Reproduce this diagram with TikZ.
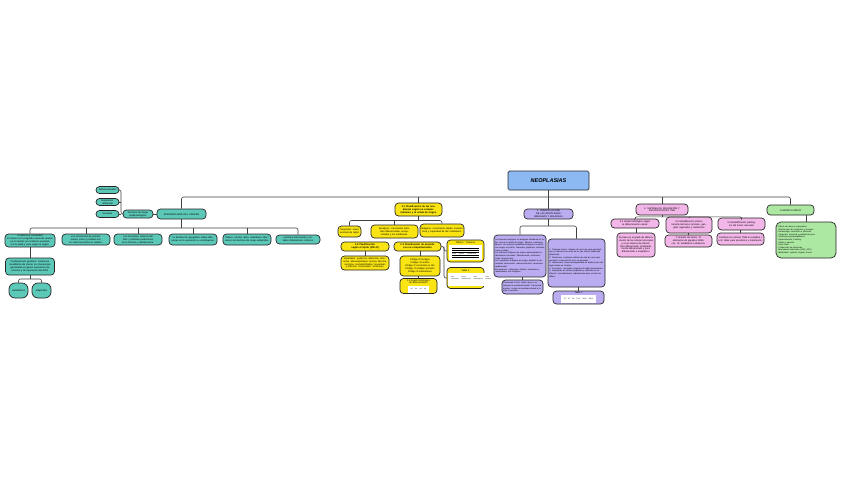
\documentclass[tikz,border=0pt]{standalone}
\usepackage{fontspec}
\setmainfont{Liberation Sans}

\definecolor{turquesa}{RGB}{92,200,184}
\definecolor{amarillo}{RGB}{250,228,20}
\definecolor{lila}{RGB}{187,172,242}
\definecolor{rosa}{RGB}{242,182,232}
\definecolor{verde}{RGB}{172,232,162}
\definecolor{celeste}{RGB}{140,185,242}

\tikzset{
	caja/.style={draw=black!85, line width=0.7pt, rounded corners=3.5pt, align=center, inner sep=0.8pt, font=\fontsize{2.4}{2.9}\selectfont},
	tq/.style={caja, fill=turquesa},
	am/.style={caja, fill=amarillo},
	li/.style={caja, fill=lila},
	ro/.style={caja, fill=rosa},
	ve/.style={caja, fill=verde},
	tam/.code 2 args={\pgfmathsetmacro\anchoT{#1-2.5}\pgfkeysalso{minimum width=#1pt, minimum height=#2pt, text width=\anchoT pt}},
	linea/.style={draw=black!75, line width=0.6pt, rounded corners=2pt},
}

\begin{document}
\begin{tikzpicture}[x=1pt,y=-1pt]
	\useasboundingbox[fill=white] (0,0) rectangle (848,477);
	
	% raiz
	\node[caja, fill=celeste, rounded corners=1.5pt, minimum width=81pt, minimum height=19pt, font=\fontsize{5.5}{7}\selectfont\bfseries\itshape] (root) at (548.5,180.5) {NEOPLASIAS};
	
	% epidemiologia
	\node[tq, tam={49}{10}] (t0) at (181.5,214) {EPIDEMIOLOGÍA DEL CÁNCER};
	\node[tq, tam={30}{8}] (tr) at (138,214) {Factores de riesgo\\ epidemiológicos};
	\node[tq, tam={23}{7}] (s1) at (107.5,190) {Edad avanzada};
	\node[tq, tam={23}{7}] (s2) at (107.5,202) {Exposición ambiental};
	\node[tq, tam={23}{7}] (s3) at (107.5,214) {Herencia};
	
	\node[tq, tam={50}{13}] (ta) at (30,240.5) {Incidencia y mortalidad\\ El cáncer es la segunda causa de muerte en el mundo; su incidencia aumenta con la edad y varía según la región.};
	\node[tq, tam={48}{11}] (tb) at (86,239.5) {Los carcinomas de pulmón, mama, colon y próstata son los más frecuentes en adultos.};
	\node[tq, tam={48}{11}] (tc) at (138,239.5) {Las leucemias, tumores del SNC y linfomas predominan en la infancia y adolescencia.};
	\node[tq, tam={48}{11}] (td) at (193,239.5) {La distribución geográfica refleja diferencias en la exposición a carcinógenos.};
	\node[tq, tam={48}{11}] (te) at (247,239.5) {Tabaco, alcohol, dieta, obesidad e infecciones son factores de riesgo adquiridos.};
	\node[tq, tam={44}{9}] (tf) at (298,239.5) {Lesiones precursoras y estados inflamatorios crónicos};
	
	\node[tq, tam={49}{17}] (tg) at (30,266.5) {Predisposición genética: síndromes hereditarios de cáncer por mutaciones germinales en genes supresores de tumores y de reparación del ADN.};
	\node[tq, tam={19}{15}, rounded corners=6pt] (th1) at (18.5,290.5) {Hereditarios};
	\node[tq, tam={19}{15}, rounded corners=6pt] (th2) at (41.5,290.5) {Adquiridos};
	
	% clasificacion
	\node[am, tam={47}{13}, font=\fontsize{2.5}{3}\selectfont\bfseries] (y0) at (418.5,209.5) {1.1 Clasificación de las neoplasias según su comportamiento y la célula de origen};
	\node[am, tam={23}{11}] (ya) at (349.5,231.5) {Neoplasia: masa anormal de tejido};
	\node[am, tam={47}{13}] (yb) at (394.5,231.5) {Benignas: crecimiento lento, bien diferenciadas, encapsuladas y sin metástasis.};
	\node[am, tam={44}{13}] (yc) at (442,230.5) {Malignas: crecimiento rápido, invasión local y capacidad de dar metástasis.};
	
	\node[am, tam={48}{9}, font=\fontsize{2.5}{3}\selectfont\bfseries] (yd) at (365,246.5) {1.2 Clasificación según el tejido (CIE-O)};
	\node[am, tam={48}{14}] (yd2) at (365,263) {Epiteliales: papiloma, adenoma, carcinoma. Mesenquimales: lipoma, fibroma, sarcoma. Hematolinfoides: leucemias y linfomas. Germinales: teratomas.};
	\node[am, tam={47}{9}, font=\fontsize{2.5}{3}\selectfont\bfseries] (ye) at (417.5,246.5) {1.3 Clasificación de acuerdo con su comportamiento};
	\node[am, tam={40}{20}] (ye2) at (420,266) {Código /0 benigno\\ Código /1 incierto\\ Código /2 carcinoma in situ\\ Código /3 maligno primario\\ Código /6 metastásico};
	\node[am, tam={37}{14}] (ye3) at (418.5,286) {1.4 Grado histológico de diferenciación\\[0.6pt] \colorbox{white}{\fontsize{1.6}{1.9}\selectfont G1 \quad G2 \quad G3 \quad G4}};
	
	\node[am, tam={37}{22}] (yf) at (465.5,251) {Tabla 1. Tumores\\[0.6pt]
		\colorbox{white}{\fontsize{1.5}{1.8}\selectfont\setlength{\tabcolsep}{1pt}\begin{tabular}{@{}lll@{}}\hline Tejido & Benigno & Maligno\\\hline Epitelio & Adenoma & Adenocarcinoma\\\hline Grasa & Lipoma & Liposarcoma\\\hline Hueso & Osteoma & Osteosarcoma\\\hline\end{tabular}}};
	\node[am, tam={37}{21}] (yg) at (465.5,278) {Tabla 2\\[0.6pt]
		\colorbox{white}{\fontsize{1.5}{1.8}\selectfont\setlength{\tabcolsep}{1.5pt}\begin{tabular}{@{}llll@{}}Mus & Nervio & Vaso & Linfa\\ Leiomioma & Schwannoma & Hemangioma & Linfoma\\[2pt] & & & \end{tabular}}};
	
	% nomenclatura
	\node[li, tam={49}{10}] (p0) at (548.5,214) {2. NOMENCLATURA DE LAS NEOPLASIAS\\ BENIGNAS Y MALIGNAS};
	\node[li, tam={52}{42}, align=left, font=\fontsize{2.1}{2.7}\selectfont] (pa) at (520,256) {Los tumores benignos se designan añadiendo el sufijo -oma a la célula de origen: fibroma, condroma, lipoma. Los tumores epiteliales benignos se clasifican según su patrón: adenoma, papiloma, cistoadenoma y pólipo.\\
		Los tumores malignos de origen mesenquimal se denominan sarcomas: fibrosarcoma, condrosarcoma, liposarcoma.\\
		Las neoplasias malignas de origen epitelial se denominan carcinomas: adenocarcinoma, carcinoma epidermoide.\\
		Excepciones: melanoma, linfoma, seminoma y mesotelioma son malignos.};
	\node[li, tam={57}{48}, align=left, font=\fontsize{2.1}{2.7}\selectfont] (pb) at (576.5,263) {1. Tumores mixtos: derivan de una sola capa germinal que se diferencia en más de un tipo celular (adenoma pleomorfo).\\
		2. Teratomas: contienen células de más de una capa germinal, a menudo las tres, en gónadas.\\
		3. Hamartoma: masa desorganizada de tejido propio del lugar donde se localiza.\\
		4. Coristoma: anomalía congénita de tejido heterotópico.\\
		5. Neoplasias de células pequeñas y redondas en la infancia: neuroblastoma, rabdomiosarcoma y tumor de Wilms.};
	\node[li, tam={51}{13}] (pc) at (578.5,297.5) {Tabla 3\\[0.5pt]
		\colorbox{white}{\fontsize{1.8}{2.1}\selectfont Tx \; T0 \; Tis \; T1-4 \quad N0-3 \quad M0-1}};
	\node[li, tam={41}{14}, align=left, font=\fontsize{2.1}{2.7}\selectfont] (pd) at (522.5,287) {Carcinoma in situ: lesión que no sobrepasa la membrana basal. Carcinoma invasor: rompe la membrana basal e infiltra el estroma.};
	
	% gradacion
	\node[ro, tam={52}{11}] (r0) at (662,209.5) {3. SISTEMA DE GRADACIÓN Y\\ ESTADIFICACIÓN TNM};
	\node[ro, tam={48}{9}] (ra) at (635,223.5) {3.1 Grado histológico según la diferenciación celular};
	\node[ro, tam={38}{24}] (ra2) at (636,245) {Se basa en el grado de diferenciación de las células tumorales y en el número de mitosis: bien diferenciado, moderadamente diferenciado y poco diferenciado o anaplásico.};
	\node[ro, tam={46}{16}] (rb) at (689,225) {3.2 Estadificación clínica: tamaño del tumor primario, ganglios regionales y metástasis};
	\node[ro, tam={47}{12}] (rb2) at (688.5,241) {T: tamaño del tumor. N: afectación de ganglios linfáticos. M: metástasis a distancia.};
	\node[ro, tam={47}{12}] (rc) at (741.5,224) {3.3 Estadificación patológica del tumor resecado};
	\node[ro, tam={47}{12}] (rc2) at (740.5,239) {Combina los valores TNM en estadios I a IV, útiles para pronóstico y tratamiento.};
	
	% clinica
	\node[ve, tam={47}{10}] (g0) at (790.5,210) {CUADRO CLÍNICO};
	\node[ve, tam={60}{36}, align=left, font=\fontsize{2.1}{2.6}\selectfont, rounded corners=5pt] (g1) at (806,240) {- Efecto de masa y compresión\\
		- Obstrucción de conductos y vísceras\\
		- Hemorragia, ulceración e infección\\
		- Caquexia: anorexia y pérdida de peso\\
		- Síndromes paraneoplásicos\\
		- Hipercalcemia, Cushing\\
		- Fiebre y anemia\\
		- Dolor local\\
		- Producción de hormonas\\
		- Marcadores tumorales (CEA, AFP)\\
		- Metástasis: pulmón, hígado, hueso};
	
	% conexiones raiz
	\coordinate (busR) at (548.5,197);
	\draw[linea] (t0.north) |- (busR) -| (g0.north);
	\draw[linea] (root.south) -- (busR);
	\foreach \n in {y0,p0,r0} {
		\draw[linea] (\n.north) -- (\n.north |- busR);
	}
	
	% conexiones epidemiologia
	\draw[linea] (tr.east) -- (t0.west);
	\coordinate (kl) at (121,214);
	\draw[linea] (s1.east) -| (kl) -- (tr.west);
	\draw[linea] (s2.east) -- (s2.east -| kl);
	\draw[linea] (s3.east) -- (kl);
	\coordinate (busT) at (181.5,228);
	\draw[linea] (ta.north) |- (busT) -| (tf.north);
	\draw[linea] (t0.south) -- (busT);
	\foreach \n in {tb,tc,td,te} {
		\draw[linea] (\n.north) -- (\n.north |- busT);
	}
	\draw[linea] (ta.south) -- (tg.north);
	\coordinate (busH) at (30,279);
	\draw[linea] (th1.north) |- (busH) -| (th2.north);
	\draw[linea] (tg.south) -- (busH);
	
	% conexiones clasificacion
	\coordinate (busY) at (418.5,220.5);
	\draw[linea] (ya.north) |- (busY) -| (yc.north);
	\draw[linea] (y0.south) -- (busY);
	\draw[linea] (yb.north) -- (yb.north |- busY);
	\draw[linea] (yd.south) -- (yd2.north);
	\draw[linea] (ye.south -| ye2.north) -- (ye2.north);
	\draw[linea] (ye2.south -| ye3.north) -- (ye3.north);
	\coordinate (kr) at (444,246.5);
	\draw[linea] (ye.east) -- (kr) |- (yf.west);
	\draw[linea] (kr) |- (yg.west);
	
	% conexiones nomenclatura
	\coordinate (busP) at (548.5,226);
	\draw[linea] (pa.north) |- (busP) -| (pb.north);
	\draw[linea] (p0.south) -- (busP);
	\draw[linea] (pa.south -| pd.north) -- (pd.north);
	\draw[linea] (pb.south -| pc.north) -- (pc.north);
	
	% conexiones gradacion
	\coordinate (busG) at (662,216.8);
	\draw[linea] (ra.north) |- (busG) -| (rc.north);
	\draw[linea] (r0.south) -- (busG);
	\draw[linea] (rb.north) -- (rb.north |- busG);
	\draw[linea] (ra.south -| ra2.north) -- (ra2.north);
	\draw[linea] (rb.south -| rb2.north) -- (rb2.north);
	\draw[linea] (rc.south -| rc2.north) -- (rc2.north);
	
	% conexiones clinica
	\draw[linea] (g0.south -| g1.north) -- (g1.north);
	
\end{tikzpicture}
\end{document}
